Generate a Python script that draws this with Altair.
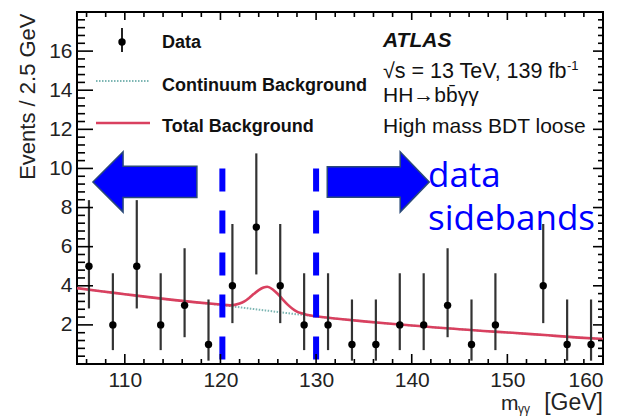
import altair as alt
import pandas as pd

W, H = 526, 352
X0, X1, Y0, Y1 = 105, 160, 0, 18

# ---------------- data ----------------
bin_centers = [106.25, 108.75, 111.25, 113.75, 116.25, 118.75, 121.25, 123.75, 126.25,
               128.75, 131.25, 133.75, 136.25, 138.75, 141.25, 143.75, 146.25, 148.75,
               153.75, 156.25, 158.75]
counts = [5, 2, 5, 2, 3, 1, 4, 7, 4, 2, 2, 1, 1, 2, 2, 3, 1, 2, 4, 1, 1]
err_low = [2.84, 0.71, 2.84, 0.71, 1.37, 0.17, 2.09, 4.58, 2.09, 0.71, 0.71, 0.17, 0.17,
           0.71, 0.71, 1.37, 0.17, 0.71, 2.09, 0.17, 0.17]
err_high = [8.38, 4.64, 8.38, 4.64, 5.92, 3.30, 7.16, 10.77, 7.16, 4.64, 4.64, 3.30, 3.30,
            4.64, 4.64, 5.92, 3.30, 4.64, 7.16, 3.30, 3.30]

curve_x = [105, 107.5, 110, 112.5, 115, 117.5, 120, 121, 122, 122.5, 123, 123.5, 124,
           124.5, 124.9, 125.5, 126, 126.5, 127, 127.5, 128, 128.5, 129, 130, 132.5, 135,
           137.5, 140, 142.5, 145, 147.5, 150, 152.5, 155, 157.5, 160]
continuum_y = [3.88, 3.72, 3.57, 3.42, 3.28, 3.15, 3.02, 2.96, 2.90, 2.87, 2.84, 2.81, 2.78,
               2.75, 2.73, 2.69, 2.66, 2.63, 2.60, 2.57, 2.54, 2.52, 2.49, 2.43, 2.30, 2.18,
               2.07, 1.97, 1.87, 1.78, 1.69, 1.61, 1.53, 1.44, 1.35, 1.28]
total_y = [3.88, 3.72, 3.57, 3.42, 3.28, 3.15, 3.04, 3.00, 3.09, 3.20, 3.38, 3.59, 3.78,
           3.91, 3.95, 3.80, 3.58, 3.31, 3.05, 2.84, 2.68, 2.59, 2.52, 2.44, 2.30, 2.18,
           2.07, 1.97, 1.87, 1.78, 1.69, 1.61, 1.53, 1.44, 1.35, 1.28]

window_edges = [120.2, 130.0]
window_top, window_bottom = 10.0, 0.2
arrow_x = [112.1, 136.5]
arrow_y = 9.31

x_major = [110, 120, 130, 140, 150, 160]
x_minor = [v for v in range(106, 160, 2) if v % 10 != 0]
y_major = [2, 4, 6, 8, 10, 12, 14, 16]
y_minor = [round(0.4 * i, 1) for i in range(1, 45) if round(0.4 * i, 1) % 2 != 0]

# ---------------- tables ----------------
pts = pd.DataFrame({"x": bin_centers, "n": counts, "lo": err_low, "hi": err_high})
curves = pd.DataFrame({"x": curve_x, "cont": continuum_y, "tot": total_y})
win = pd.DataFrame({"x": window_edges, "top": [window_top] * 2, "bot": [window_bottom] * 2})

# inward tick segments (bottom/top for x, left/right for y), lengths in pixels
sx = (X1 - X0) / W
sy = (Y1 - Y0) / H
seg = []
for vals, L in ((x_major, 10), (x_minor, 5)):
    for v in vals:
        seg.append({"xa": float(v), "xb": float(v), "ya": float(Y0), "yb": Y0 + L * sy})
for vals, L in ((x_major, 8), (x_minor, 5)):
    for v in vals:
        seg.append({"xa": float(v), "xb": float(v), "ya": float(Y1), "yb": Y1 - L * sy})
for vals, L in ((y_major, 16), (y_minor, 8)):
    for v in vals:
        seg.append({"xa": float(X0), "xb": X0 + L * sx, "ya": float(v), "yb": float(v)})
for vals, L in ((y_major, 10), (y_minor, 5)):
    for v in vals:
        seg.append({"xa": float(X1), "xb": X1 - L * sx, "ya": float(v), "yb": float(v)})
tick_df = pd.DataFrame(seg)

FONT = "Liberation Sans"
xs = alt.Scale(domain=[X0, X1], nice=False, zero=False)
ys = alt.Scale(domain=[Y0, Y1], nice=False, zero=False)
xaxis = alt.Axis(values=x_major, ticks=False, domain=False, grid=False, labelFontSize=21,
                 labelPadding=5, labelColor="#222", title=None, labelFont=FONT)
yaxis = alt.Axis(values=y_major, ticks=False, domain=False, grid=False, labelFontSize=21,
                 labelPadding=5, labelColor="#222", title="Events / 2.5 GeV",
                 titleFontSize=22, titleFontWeight="normal", titleColor="#222",
                 titleAnchor="end", titleAngle=270, titleAlign="right",
                 titleBaseline="middle", titleX=-50, titleY=1, titleFont=FONT,
                 labelFont=FONT)

X = lambda f: alt.X(f, type="quantitative", scale=xs, axis=xaxis)
Y = lambda f: alt.Y(f, type="quantitative", scale=ys, axis=yaxis)

# ---------------- curves ----------------
cont_line = alt.Chart(curves).mark_line(color="#7db6b3", strokeWidth=2, strokeDash=[1.5, 1.5],
                                        interpolate="monotone").encode(x=X("x"), y=Y("cont"))
tot_line = alt.Chart(curves).mark_line(color="#d9405f", strokeWidth=2.6,
                                       interpolate="monotone").encode(x=X("x"), y=Y("tot"))

# ---------------- data points ----------------
bars = alt.Chart(pts).mark_rule(color="#333", strokeWidth=2.2).encode(
    x=X("x"), y=Y("lo"), y2="hi")
dots = alt.Chart(pts).mark_circle(color="black", size=55, opacity=1).encode(x=X("x"), y=Y("n"))

# ---------------- ticks ----------------
tick_layer = alt.Chart(tick_df).mark_rule(color="black", strokeWidth=1.6, opacity=1).encode(
    x=X("xa"), x2="xb", y=Y("ya"), y2="yb")

# ---------------- blue annotations ----------------
dashes = alt.Chart(win).mark_rule(color="#0000ff", strokeWidth=6, strokeDash=[23, 19]).encode(
    x=X("x"), y=Y("top"), y2="bot")

left_path = "M -1 0 L -0.42 -0.58 L -0.42 -0.3 L 1 -0.3 L 1 0.3 L -0.42 0.3 L -0.42 0.58 Z"
right_path = "M 1 0 L 0.43 -0.59 L 0.43 -0.3 L -1 -0.3 L -1 0.3 L 0.43 0.3 L 0.43 0.59 Z"
arrow_l = alt.Chart(pd.DataFrame({"x": [arrow_x[0]], "y": [arrow_y]})).mark_point(
    shape=left_path, size=104 ** 2, filled=True, fill="#0000ff", stroke="#2b4a78",
    strokeWidth=1.5, opacity=1).encode(x=X("x"), y=Y("y"))
arrow_r = alt.Chart(pd.DataFrame({"x": [arrow_x[1]], "y": [arrow_y]})).mark_point(
    shape=right_path, size=102 ** 2, filled=True, fill="#0000ff", stroke="#2b4a78",
    strokeWidth=1.5, opacity=1).encode(x=X("x"), y=Y("y"))

one = alt.Data(values=[{}])

def txt(s, x, y, size, weight="normal", style="normal", color="#111", align="left", font=FONT):
    return alt.Chart(one).mark_text(text=s, align=align, baseline="alphabetic", fontSize=size,
                                    fontWeight=weight, fontStyle=style, color=color,
                                    font=font).encode(x=alt.value(x), y=alt.value(y))

texts = [
    txt("Data", 85, 36, 18, "bold"),
    txt("Continuum Background", 85, 79, 18, "bold"),
    txt("Total Background", 85, 120, 18, "bold"),
    txt("ATLAS", 306, 35, 21, "bold", "italic"),
    txt("\u221as = 13 TeV, 139 fb", 306, 66, 21.5),
    txt("-1", 490, 58, 13),
    txt("HH\u2192bb\u0304\u03b3\u03b3", 306, 90, 21),
    txt("High mass BDT loose", 306, 121, 21),
    txt("m", 424, 398, 21, color="#222"),
    txt("\u03b3\u03b3", 441, 401, 12, color="#222"),
    txt("[GeV]", 526, 398, 23, color="#222", align="right"),
    txt("data", 351, 175, 35, color="#0000ff", font="Open Sans"),
    txt("sidebands", 351, 218, 35, color="#0000ff", font="Open Sans"),
]

# legend symbols
leg_bar = alt.Chart(one).mark_rule(color="#222", strokeWidth=2).encode(
    x=alt.value(45), y=alt.value(16), y2=alt.value(40))
leg_dot = alt.Chart(one).mark_circle(color="black", size=55, opacity=1).encode(
    x=alt.value(45), y=alt.value(30))
leg_cont = alt.Chart(one).mark_rule(color="#7db6b3", strokeWidth=2, strokeDash=[1.5, 1.5]).encode(
    x=alt.value(19), x2=alt.value(73), y=alt.value(69))
leg_tot = alt.Chart(one).mark_rule(color="#d9405f", strokeWidth=2.6).encode(
    x=alt.value(19), x2=alt.value(73), y=alt.value(111))

chart = alt.layer(
    cont_line, tot_line, bars, dots, dashes, arrow_l, arrow_r,
    leg_bar, leg_dot, leg_cont, leg_tot, *texts, tick_layer
).properties(
    width=W, height=H,
    autosize=alt.AutoSizeParams(type="none"),
    padding={"left": 77, "top": 12, "right": 20, "bottom": 52},
    background="white",
).configure(font=FONT).configure_view(stroke="black", strokeWidth=2)

chart.save("out.html", embed_options={"renderer": "svg", "actions": False})
